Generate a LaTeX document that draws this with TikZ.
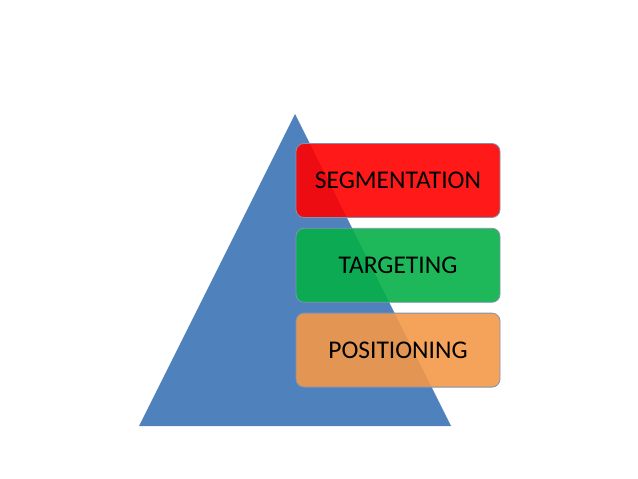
\documentclass[tikz,border=0pt]{standalone}
\usepackage{fontspec}
\setmainfont{Carlito}
\usetikzlibrary{positioning}

\definecolor{pyrblue}{HTML}{4F81BD}
\definecolor{segred}{HTML}{FF0000}
\definecolor{targreen}{HTML}{05B048}
\definecolor{posorange}{HTML}{F49948}
\definecolor{boxline}{HTML}{8093B0}

\begin{document}
\begin{tikzpicture}[x=1pt, y=-1pt,
    layer/.style={draw=boxline, line width=0.8pt, rounded corners=8pt, fill opacity=0.9,
      text opacity=1, minimum width=204pt, minimum height=74pt, inner sep=0pt,
      font=\fontsize{25.5}{28}\selectfont, text=black}]
    \useasboundingbox (0,0) rectangle (638,479);

    % Pyramid
    \fill[pyrblue] (295,114) -- (451,426) -- (139,426) -- cycle;

    % Layers
    \node[layer, fill=segred] (seg) at (398,180.5) {SEGMENTATION};
    \node[layer, fill=targreen, below=10pt of seg] (targ) {TARGETING};
    \node[layer, fill=posorange, below=10pt of targ] (pos) {POSITIONING};
\end{tikzpicture}
\end{document}
